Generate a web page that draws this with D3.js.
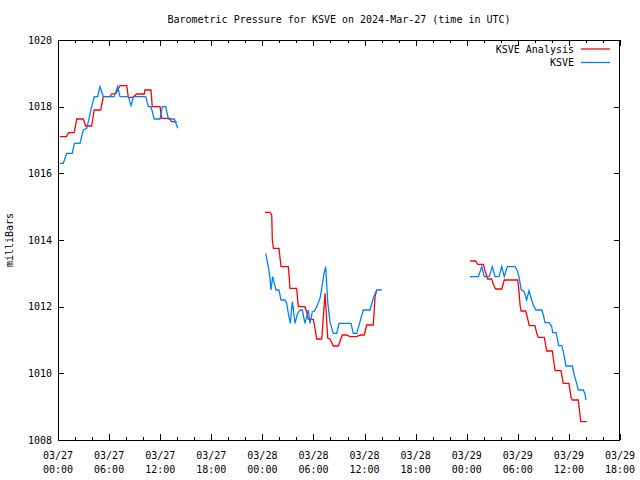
<!DOCTYPE html>
<html>
<head>
<meta charset="utf-8">
<script src="https://cdn.jsdelivr.net/npm/d3@7"></script>
<style>
  html, body { margin: 0; padding: 0; background: #fff; }
  svg text { font-family: "DejaVu Sans Mono", "Liberation Mono", monospace; font-size: 10px; fill: #000; }
</style>
</head>
<body>
<svg id="chart" width="640" height="480"></svg>
<script>
// ---- data (hours since 2024-03-27 00:00 UTC, pressure in mb); null breaks the line ----
const analysisHours = [
  0.23, 1.0, 1.1, 1.3, 1.9, 2.2, 2.97, 3.25, 3.95, 4.25, 5.01, 5.32, 6.1, 6.3, 6.8, 7.28, 8.07, 8.26, 8.8, 9.24, 10.13, 10.2, 10.92, 11.07, 11.98, 12.18, 13.15, 13.3, 13.94,
  null,
  24.31, 24.9, 25.1, 25.17, 25.29, 25.95, 26.19, 27.05, 27.25, 28.03, 28.22, 29.0, 29.2, 29.4, 29.98, 30.18, 30.38, 30.97, 31.16, 31.36, 31.56, 31.68, 31.94, 32.33, 32.92, 33.39, 33.9, 34.29, 35.08, 35.47, 35.97, 36.25, 37.03, 37.23, 37.43,
  null,
  48.38, 49.05, 49.29, 49.95, 50.15, 50.35, 50.46, 50.93, 51.12, 51.4, 52.11, 52.41, 53.99, 54.14, 54.26, 54.38, 54.93, 55.16, 55.35, 56.02, 56.22, 56.41, 57.11, 57.39, 58.05, 58.37, 59.07, 59.34, 60.01, 60.25, 60.4, 61.1, 61.3, 61.39, 62.09
];
const analysisValues = [
  1017.1, 1017.1, 1017.17, 1017.22, 1017.22, 1017.63, 1017.63, 1017.42, 1017.42, 1017.9, 1017.9, 1018.3, 1018.3, 1018.38, 1018.4, 1018.63, 1018.63, 1018.28, 1018.28, 1018.38, 1018.38, 1018.5, 1018.5, 1018.0, 1018.0, 1017.65, 1017.65, 1017.55, 1017.55,
  null,
  1014.83, 1014.83, 1014.75, 1014.0, 1013.75, 1013.75, 1013.2, 1013.2, 1012.55, 1012.55, 1012.0, 1012.0, 1011.85, 1011.62, 1011.62, 1011.35, 1011.03, 1011.03, 1011.7, 1012.4, 1011.55, 1011.05, 1011.03, 1010.82, 1010.82, 1011.15, 1011.15, 1011.1, 1011.1, 1011.15, 1011.15, 1011.45, 1011.45, 1012.3, 1012.48,
  null,
  1013.37, 1013.37, 1013.27, 1013.27, 1013.07, 1012.93, 1012.83, 1012.83, 1012.67, 1012.53, 1012.53, 1012.8, 1012.8, 1012.45, 1012.05, 1011.87, 1011.87, 1011.63, 1011.43, 1011.43, 1011.2, 1011.08, 1011.08, 1010.67, 1010.67, 1010.08, 1010.08, 1009.7, 1009.7, 1009.28, 1009.2, 1009.2, 1008.75, 1008.55, 1008.55
];
const ksveHours = [
  0.23, 0.62, 1.02, 1.68, 1.92, 2.58, 2.97, 3.37, 3.56, 3.96, 4.26, 4.66, 4.93, 5.32, 6.6, 7.0, 7.28, 8.26, 8.58, 8.85, 10.3, 10.6, 10.92, 11.3, 11.98, 12.25, 12.65, 12.96, 13.66, 14.06,
  null,
  24.39, 24.7, 24.9, 25.01, 25.21, 25.4, 25.6, 25.95, 26.19, 26.66, 26.86, 27.05, 27.28, 27.52, 27.63, 27.83, 28.15, 28.42, 28.69, 29.0, 29.4, 29.6, 29.87, 30.1, 30.38, 30.77, 30.97, 31.24, 31.44, 31.67, 31.94, 32.33, 32.73, 33.0, 34.41, 34.68, 35.08, 35.47, 35.85, 36.64, 37.03, 37.43, 38.02,
  null,
  48.38, 49.36, 49.76, 50.06, 50.65, 51.0, 51.32, 51.79, 52.11, 52.41, 52.77, 53.67, 53.94, 54.18, 54.38, 54.73, 55.04, 55.31, 55.63, 55.82, 56.1, 56.81, 57.0, 57.19, 57.7, 57.98, 58.1, 58.48, 58.64, 58.8, 59.15, 59.34, 59.66, 60.4, 60.63, 60.91, 61.1, 61.68, 61.88, 62.0
];
const ksveValues = [
  1016.3, 1016.3, 1016.6, 1016.6, 1016.9, 1016.9, 1017.3, 1017.35, 1017.55, 1018.0, 1018.3, 1018.3, 1018.6, 1018.3, 1018.3, 1018.6, 1018.3, 1018.3, 1018.03, 1018.3, 1018.3, 1018.0, 1018.0, 1017.63, 1017.63, 1018.0, 1018.0, 1017.63, 1017.63, 1017.35,
  null,
  1013.6, 1013.2, 1012.85, 1012.5, 1012.9, 1012.7, 1012.5, 1012.5, 1012.2, 1012.2, 1012.1, 1011.8, 1011.5, 1012.15, 1011.95, 1011.5, 1011.8, 1011.9, 1011.9, 1011.5, 1011.9, 1011.5, 1011.85, 1011.87, 1012.0, 1012.25, 1012.55, 1013.0, 1013.2, 1012.15, 1011.55, 1011.2, 1011.2, 1011.5, 1011.5, 1011.2, 1011.2, 1011.55, 1011.9, 1011.9, 1012.25, 1012.5, 1012.5,
  null,
  1012.9, 1012.9, 1013.2, 1012.9, 1012.9, 1013.2, 1012.9, 1012.9, 1013.2, 1012.9, 1013.2, 1013.2, 1013.08, 1012.85, 1012.52, 1012.45, 1012.2, 1012.48, 1012.2, 1012.05, 1011.9, 1011.9, 1011.75, 1011.52, 1011.52, 1011.4, 1011.22, 1011.22, 1011.05, 1010.83, 1010.83, 1010.65, 1010.22, 1010.22, 1009.95, 1009.7, 1009.5, 1009.5, 1009.4, 1009.2
];
const seriesNames = ["KSVE Analysis", "KSVE"];
const seriesColors = ["#ff0000", "#0080ff"];
const yTickValues = [1008, 1010, 1012, 1014, 1016, 1018, 1020];
const xMajorHours = [0, 6, 12, 18, 24, 30, 36, 42, 48, 54, 60, 66];
const xMinorHours = d3.range(0, 67, 2).filter(h => h % 6 !== 0);
const dayLabels = ["03/27", "03/28", "03/29", "03/30"];
const titleText = "Barometric Pressure for KSVE on 2024-Mar-27 (time in UTC)";
const yLabelText = "milliBars";

// ---- layout ----
const L = 58, R = 620, T = 40, B = 440;
const svg = d3.select("#chart");
const x = d3.scaleLinear().domain([0, 66]).range([L, R]);
const y = d3.scaleLinear().domain([1008, 1020]).range([B, T]);

// title
svg.append("text").attr("x", (L + R) / 2).attr("y", 23).attr("text-anchor", "middle").text(titleText);

// y label
svg.append("text").attr("transform", `translate(13,${(T + B) / 2}) rotate(-90)`)
  .attr("text-anchor", "middle").text(yLabelText);

// ticks via axes (inward)
const g = svg.append("g").attr("shape-rendering", "crispEdges");
function styleAxis(sel) {
  sel.select(".domain").remove();
  sel.selectAll("line").attr("stroke", "#000");
}
g.append("g").attr("transform", `translate(${L},0)`)
  .call(d3.axisRight(y).tickValues(yTickValues).tickSize(6).tickFormat(""))
  .call(styleAxis);
g.append("g").attr("transform", `translate(${R},0)`)
  .call(d3.axisLeft(y).tickValues(yTickValues).tickSize(6).tickFormat(""))
  .call(styleAxis);
g.append("g").attr("transform", `translate(0,${B})`)
  .call(d3.axisTop(x).tickValues(xMajorHours).tickSize(6).tickFormat(""))
  .call(styleAxis);
g.append("g").attr("transform", `translate(0,${B})`)
  .call(d3.axisTop(x).tickValues(xMinorHours).tickSize(3).tickFormat(""))
  .call(styleAxis);
g.append("g").attr("transform", `translate(0,${T})`)
  .call(d3.axisBottom(x).tickValues(xMajorHours).tickSize(6).tickFormat(""))
  .call(styleAxis);
g.append("g").attr("transform", `translate(0,${T})`)
  .call(d3.axisBottom(x).tickValues(xMinorHours).tickSize(3).tickFormat(""))
  .call(styleAxis);

// tick labels
svg.append("g").selectAll("text").data(yTickValues).join("text")
  .attr("x", L - 6).attr("y", d => y(d) + 3.5).attr("text-anchor", "end").text(d => d);
const xl = svg.append("g").selectAll("g").data(xMajorHours).join("g")
  .attr("transform", d => `translate(${x(d)},0)`);
xl.append("text").attr("y", 459).attr("text-anchor", "middle").text(d => dayLabels[Math.floor(d / 24)]);
xl.append("text").attr("y", 473).attr("text-anchor", "middle")
  .text(d => String(d % 24).padStart(2, "0") + ":00");

// frame
g.append("rect").attr("x", L + 0.5).attr("y", T + 0.5).attr("width", R - L - 1).attr("height", B - T)
  .attr("fill", "none").attr("stroke", "#000");

// lines
function mk(hours, vals) { return hours.map((h, i) => ({ h, v: vals[i] })); }
const line = d3.line().defined(d => d.h !== null && d.v !== null).x(d => x(d.h)).y(d => y(d.v));
const series = [mk(analysisHours, analysisValues), mk(ksveHours, ksveValues)];
series.forEach((s, i) => {
  svg.append("path").datum(s).attr("d", line).attr("fill", "none")
    .attr("stroke", seriesColors[i]).attr("stroke-width", 1.3).attr("stroke-linejoin", "miter");
});

// legend
seriesNames.forEach((n, i) => {
  const yy = 49 + i * 13.5;
  svg.append("text").attr("x", 574).attr("y", yy + 3.5).attr("text-anchor", "end").text(n);
  svg.append("line").attr("x1", 581).attr("x2", 610).attr("y1", yy).attr("y2", yy)
    .attr("stroke", seriesColors[i]).attr("stroke-width", 1.3);
});
</script>
</body>
</html>
